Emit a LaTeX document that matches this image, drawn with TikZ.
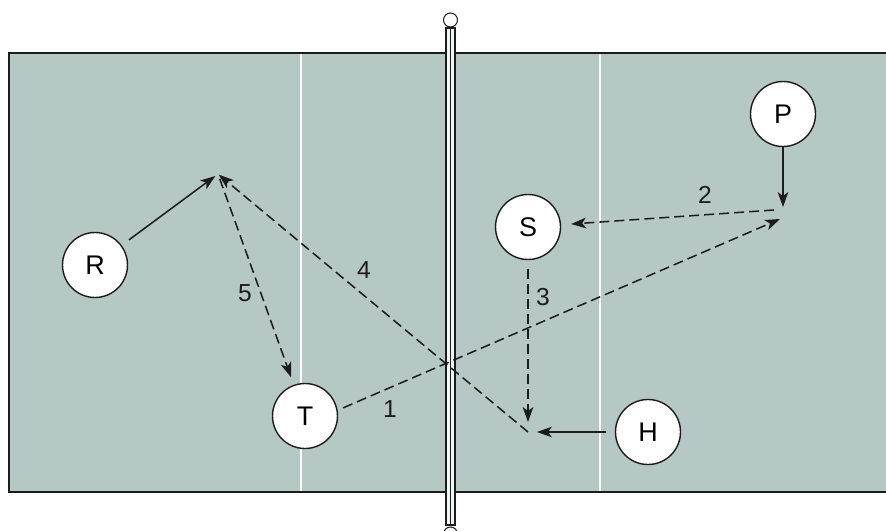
\documentclass[tikz,border=0pt]{standalone}
\usepackage{fontspec}
\setmainfont{Liberation Sans}
\usetikzlibrary{arrows.meta,positioning,calc}
\definecolor{cancha}{HTML}{B6C8C4}
\definecolor{tinta}{HTML}{1C1C1C}
\tikzset{
  jugador/.style={circle,draw=tinta,line width=1.2pt,fill=white,minimum size=1.95cm,
    inner sep=0pt,font=\fontsize{23}{26}\selectfont},
  mov/.style={tinta,line width=1.3pt,-{Stealth[length=0.45cm,width=0.32cm,inset=0.12cm]}},
  pase/.style={mov,dash pattern=on 0.3cm off 0.15cm},
  num/.style={font=\fontsize{21}{24}\selectfont,text=tinta,inner sep=0pt}
}

\begin{document}
\begin{tikzpicture}[x=0.03cm,y=-0.03cm]
  \useasboundingbox (0,0) rectangle (886,531);
  % cancha
  \fill[cancha] (9,53) rectangle (886,492);
  \foreach \x in {301,600} \draw[white,line width=1.7pt] (\x,53) -- (\x,492);
  \draw[tinta,line width=1.2pt] (886,53) -- (9,53) -- (9,492) -- (886,492);
  % red
  \draw[tinta,line width=0.9pt,fill=white!80!cancha] (446,28) rectangle (455,525);
  \draw[tinta,line width=0.9pt] (450.5,28) -- (450.5,525);
  \foreach \y in {20,534} \draw[tinta,line width=0.9pt,fill=white] (450.5,\y) circle[radius=0.21cm];
  % jugadores
  \node[jugador] (R) at (95,265) {R};
  \node[jugador] (T) at (305,416) {T};
  \node[jugador] (S) at (528,227) {S};
  \node[jugador] (P) at (783,114) {P};
  \node[jugador] (H) at (648,432) {H};
  \coordinate (alto) at (218,174);
  \coordinate (colocP) at (783,207);
  \coordinate (sal2) at (774,210);
  \coordinate (fin1) at (780,219);
  \coordinate (bajo) at (528,432);
  % recorridos
  \draw[mov,shorten <=0.27cm,shorten >=0.1cm] (R) -- (alto);
  \draw[mov] (P) -- (colocP);
  \draw[mov,shorten <=0.25cm,shorten >=0.27cm] (H) -- (bajo);
  \draw[pase,shorten <=0.15cm,shorten >=0.24cm] (alto) -- (T);
  \draw[pase,shorten <=0.18cm] (T.10) -- (fin1);
  \draw[pase,shorten >=0.3cm] (sal2) -- (S);
  \draw[pase,shorten <=0.25cm,shorten >=0.3cm] (S) -- (bajo);
  \draw[pase,shorten >=0.03cm] (bajo) -- (alto);
  % numeros
  \node[num] (n1) at (390,409) {1};
  \node[num] (n2) at (705,195) {2};
  \node[num] (n3) at (543,297) {3};
  \node[num] (n4) at (364,270) {4};
  \node[num] (n5) at (245,293) {5};
\end{tikzpicture}
\end{document}
